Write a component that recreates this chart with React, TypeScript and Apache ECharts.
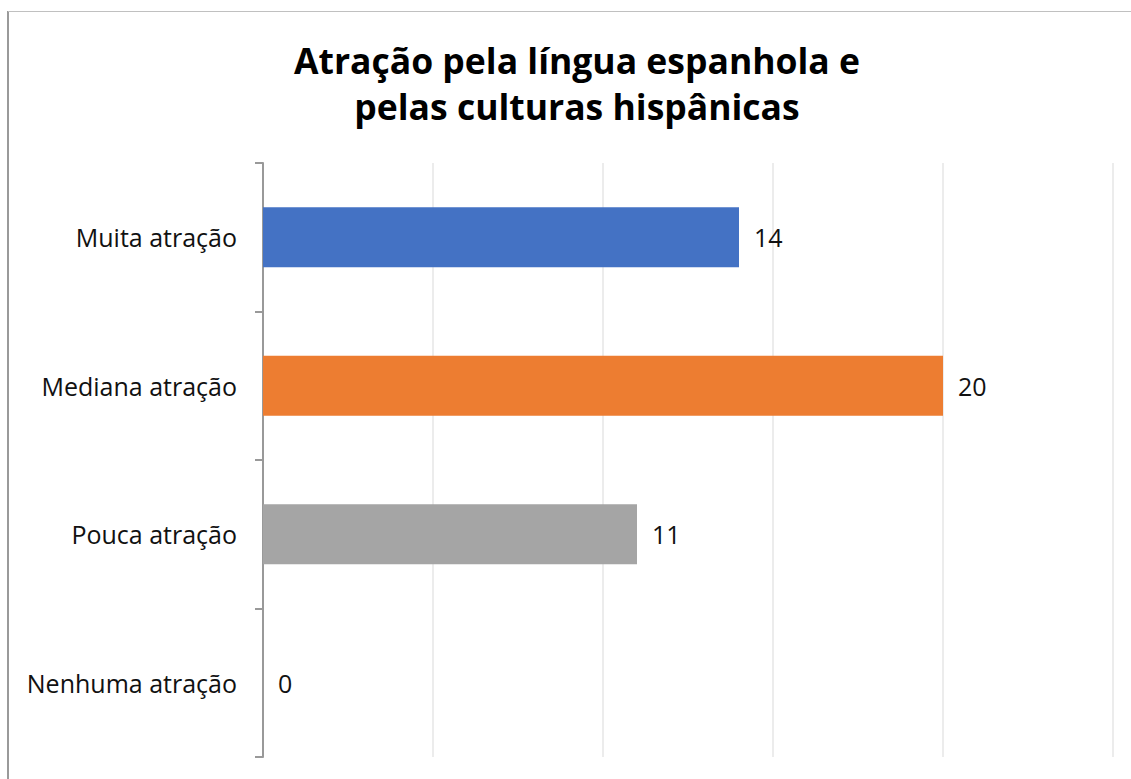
import React, { useEffect, useRef } from "react";
import * as echarts from "echarts";

const categories = ["Muita atração", "Mediana atração", "Pouca atração", "Nenhuma atração"];
const values = [14, 20, 11, 0];
const barColors = ["#4472C4", "#ED7D31", "#A5A5A5", "#FFC000"];
const titleText = "Atração pela língua espanhola e\npelas culturas hispânicas";

export default function App() {
  const ref = useRef<HTMLDivElement>(null);
  useEffect(() => {
    if (!ref.current) return;
    const chart = echarts.init(ref.current, undefined, { renderer: "svg" });
    const font = "'Open Sans', 'Noto Sans', sans-serif";
    chart.setOption({
      animation: false,
      backgroundColor: "#ffffff",
      grid: { left: 263, right: 18, top: 163, bottom: 22, containLabel: false },
      xAxis: {
        type: "value",
        min: 0,
        max: 25,
        interval: 5,
        axisLabel: { show: false },
        axisLine: { show: false },
        axisTick: { show: false },
        splitLine: { show: true, lineStyle: { color: "#ececec", width: 2 } },
      },
      yAxis: {
        type: "category",
        inverse: true,
        data: categories,
        axisLine: { show: true, lineStyle: { color: "#999999", width: 2 } },
        axisTick: { show: true, length: 8, lineStyle: { color: "#999999", width: 2 } },
        axisLabel: { fontFamily: font, fontSize: 25, color: "#111", margin: 26 },
      },
      graphic: [
        { type: "line", shape: { x1: 8, y1: 11, x2: 8, y2: 779 }, style: { stroke: "#9a9a9a", lineWidth: 2 } },
        { type: "line", shape: { x1: 8, y1: 11.5, x2: 1131, y2: 11.5 }, style: { stroke: "#c0c0c0", lineWidth: 1 } },
        {
          type: "text",
          x: 577,
          y: 37,
          style: {
            text: titleText,
            textAlign: "center",
            textVerticalAlign: "top",
            fontFamily: font,
            fontSize: 35.5,
            fontWeight: "bold",
            fill: "#000",
            lineHeight: 46,
          },
        },
      ],
      series: [
        {
          type: "bar",
          barWidth: 60,
          data: values.map((v, i) => ({ value: v, itemStyle: { color: barColors[i] } })),
          label: { show: true, position: "right", distance: 15, fontFamily: font, fontSize: 25, color: "#111" },
        },
      ],
    });
    return () => chart.dispose();
  }, []);
  return <div ref={ref} style={{ position: "fixed", left: 0, top: 0, width: 1131, height: 779 }} />;
}
